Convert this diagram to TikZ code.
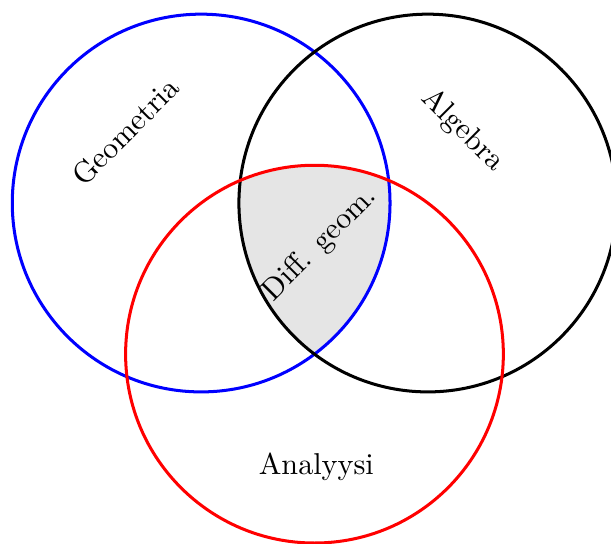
\documentclass[tikz,border=0pt]{standalone}
\usepackage{tikz}
\begin{document}
\begin{tikzpicture}
  [scale=1.1,
   set/.style={line width=1pt},
   shaded/.style={fill=black!10},
  ]
  \useasboundingbox (-2.13,-3.6) rectangle (4.34,2.15);

  \begin{scope}
    \clip (0,0) circle (2);
    \clip (2.4,0) circle (2);
    \fill[shaded] (1.2,-1.6) circle (2);
  \end{scope}

  \draw[set, blue] (0,0) circle (2);
  \draw[set] (2.4,0) circle (2);
  \draw[set, red] (1.2,-1.6) circle (2);

  \node[rotate=45] (geo) at (-0.8,0.76) {Geometria};
  \node[rotate=-45] (alg) at (2.77,0.77) {Algebra};
  \node[rotate=45] (diff) at (1.26,-0.44) {Diff. geom.};
  \node (ana) at (1.22,-2.79) {Analyysi};
\end{tikzpicture}
\end{document}
